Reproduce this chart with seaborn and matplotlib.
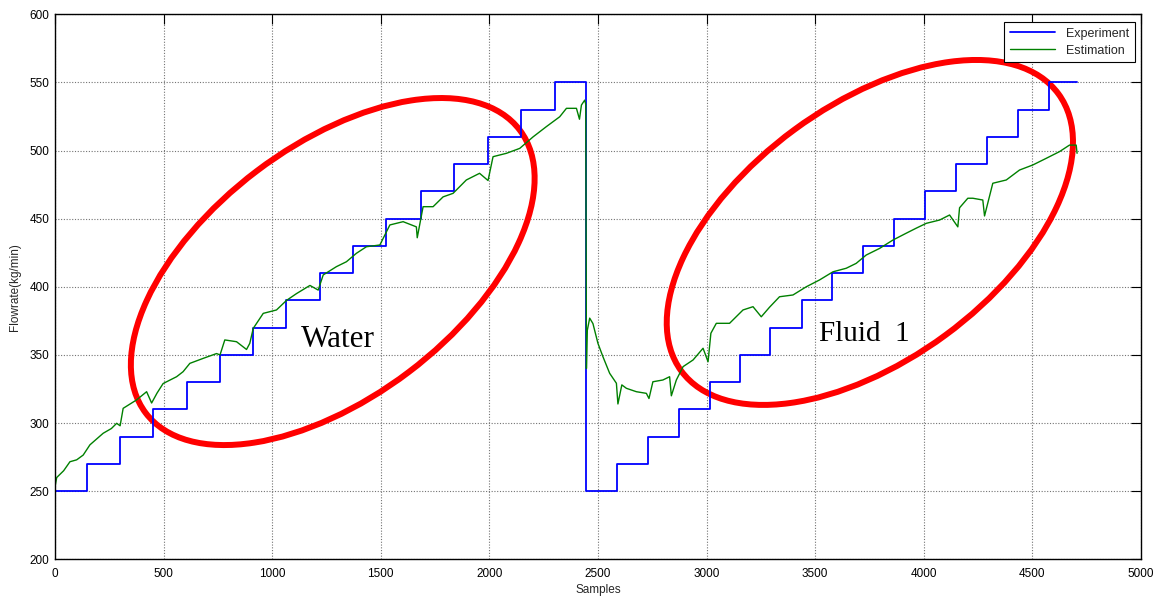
import matplotlib
matplotlib.use("Agg")
import matplotlib.pyplot as plt
from matplotlib.patches import Ellipse
from matplotlib.transforms import ScaledTranslation
import numpy as np
import pandas as pd
import seaborn as sns

# Setpoint schedule (Experiment): sample where each level starts, and the level
step_starts = [0, 149, 299, 452, 606, 759, 912, 1066, 1220, 1373, 1526, 1684,
               1838, 1994, 2148, 2304,
               2447, 2588, 2731, 2872, 3015, 3156, 3294, 3439, 3579, 3720,
               3863, 4007, 4149, 4292, 4435, 4578]
step_levels = [250, 270, 290, 310, 330, 350, 370, 390, 410, 430, 450, 470,
               490, 510, 530, 550,
               250, 270, 290, 310, 330, 350, 370, 390, 410, 430, 450, 470,
               490, 510, 530, 550]
last_sample = 4706

# Estimated flowrate (Estimation)
est_samples = [0, 8, 40, 69, 100, 130, 161, 222, 260, 284, 300, 314, 376, 422,
               445, 470, 498, 560, 590, 621, 683, 744, 760, 782, 836, 882, 897,
               913, 959, 1020, 1066, 1112, 1174, 1212, 1235, 1296, 1342, 1388,
               1434, 1496, 1542, 1603, 1664, 1668, 1695, 1741, 1787, 1833, 1894,
               1955, 1994, 2017, 2079, 2140, 2201, 2262, 2324, 2355, 2401, 2415,
               2424, 2439, 2444, 2447, 2451, 2462, 2477, 2500, 2523, 2554, 2585,
               2592, 2610, 2631, 2677, 2723, 2735, 2753, 2799, 2830, 2838, 2861,
               2892, 2938, 2984, 3007, 3020, 3045, 3106, 3168, 3214, 3252, 3290,
               3336, 3398, 3459, 3520, 3582, 3643, 3689, 3735, 3797, 3858, 3919,
               3965, 4012, 4073, 4119, 4157, 4165, 4203, 4226, 4272, 4280, 4318,
               4380, 4441, 4502, 4564, 4625, 4671, 4702, 4706]
est_values = [253, 260, 265, 271.6, 273, 276.5, 284, 292.5, 296, 299.8, 298,
              310.8, 317, 323, 314.7, 322, 329, 334, 337.7, 343.8, 347.5, 351,
              350, 361, 359.7, 354, 358.5, 369.5, 380.5, 383, 390, 395, 401,
              397.6, 408.7, 414.8, 418.4, 424.6, 429.4, 430.7, 445.4, 447.8,
              444, 436, 458.8, 458.8, 466, 468.6, 478.4, 483.3, 478, 495.5, 498,
              501.6, 510, 517.5, 524.8, 531, 531, 523, 533.4, 537, 534, 340,
              368, 377, 373, 358.5, 348.7, 336.5, 329.2, 314, 328, 325.5, 323,
              321.8, 318, 330.3, 331.6, 334, 320, 331.6, 341.4, 346.3, 354.9,
              345, 365.9, 373.2, 373.2, 383, 385.4, 378, 385, 392.7, 394, 400,
              405, 411, 413.6, 417.2, 423.3, 428.2, 434.3, 439.3, 443, 446.6,
              449, 452.7, 444, 458, 465, 465, 463.7, 452, 476, 478.4, 485.7,
              489.4, 494.3, 499.2, 504, 504, 498]

x_ticks = [0, 500, 1000, 1500, 2000, 2500, 3000, 3500, 4000, 4500, 5000]
y_ticks = [200, 250, 300, 350, 400, 450, 500, 550, 600]

exp_df = pd.DataFrame({"Samples": step_starts + [last_sample],
                       "Flowrate": step_levels + [step_levels[-1]]})
est_df = pd.DataFrame({"Samples": est_samples, "Flowrate": est_values})

sns.set_theme(style="white")
plt.rcParams["font.family"] = ["Liberation Sans", "DejaVu Sans"]

fig = plt.figure(figsize=(11.57, 5.99), dpi=100)
ax = fig.add_axes([0.0475, 0.0663, 0.9386, 0.9098])

sns.lineplot(data=exp_df, x="Samples", y="Flowrate", ax=ax, color="#0000FF",
             linewidth=1.3, drawstyle="steps-post", estimator=None,
             sort=False, label="Experiment")
sns.lineplot(data=est_df, x="Samples", y="Flowrate", ax=ax, color="#008000",
             linewidth=1.0, estimator=None, sort=False, label="Estimation")

ax.set_xlim(0, 5000)
ax.set_ylim(200, 600)
ax.set_xticks(x_ticks)
ax.set_yticks(y_ticks)
ax.grid(True, color="0.45", linestyle=(0, (1, 1.5)), linewidth=0.8)
ax.set_axisbelow(True)
for sp in ax.spines.values():
    sp.set_color("black")
    sp.set_linewidth(1.0)
    sp.set_visible(True)
ax.tick_params(direction="in", length=7, width=0.8, top=True, right=True,
               labelsize=8.5, colors="black")
ax.tick_params(axis="x", pad=6)
ax.tick_params(axis="y", pad=4)
ax.set_xlabel("Samples", fontsize=8.5, labelpad=3)
ax.set_ylabel("Flowrate(kg/min)", fontsize=8.5, labelpad=6)

# Highlight the two regions
for (cx, cy, w, h, ang) in [(1279, 411.2, 4.69, 2.52, 37.1),
                            (3752, 439.9, 4.68, 2.55, 36.3)]:
    tr = fig.dpi_scale_trans + ScaledTranslation(cx, cy, ax.transData)
    ax.add_patch(Ellipse((0, 0), w, h, angle=ang, transform=tr, fill=False,
                         edgecolor="#FF0000", linewidth=4.3))

ax.text(1130, 356, "Water", family="Liberation Serif", fontsize=22.5,
        va="baseline", ha="left", color="black")
ax.text(3520, 360, "Fluid  1", family="Liberation Serif", fontsize=21,
        va="baseline", ha="left", color="black")

leg = ax.legend(loc="upper right", bbox_to_anchor=(0.9945, 0.986),
                fontsize=9, frameon=True, fancybox=False, framealpha=1,
                edgecolor="black", handlelength=3.6, borderpad=0.45,
                labelspacing=0.4, handletextpad=0.9, borderaxespad=0)
leg.get_frame().set_linewidth(0.8)

fig.savefig("out.png", dpi=100)
